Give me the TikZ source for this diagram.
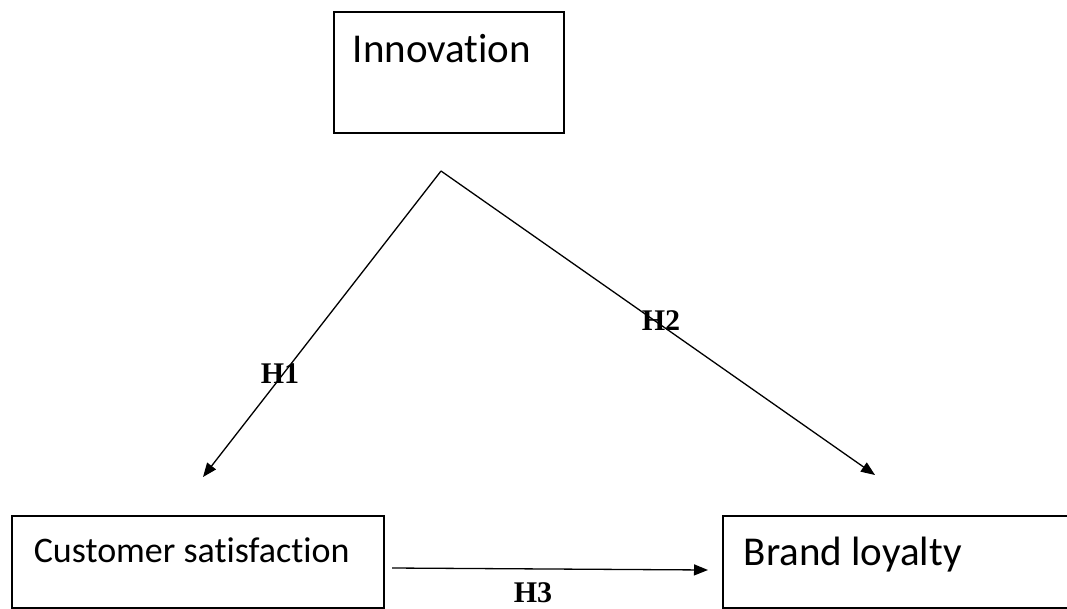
\documentclass[tikz,border=0pt]{standalone}
\usepackage{fontspec}
\setmainfont{Carlito}[Ligatures=NoCommon]
\newfontfamily\hypfont{Liberation Serif}
\usetikzlibrary{arrows.meta}
\begin{document}
\begin{tikzpicture}[x=1pt, y=-1pt, line width=1.3pt, >={Triangle[length=14pt, width=11pt]},
	main/.style = {draw, line width=1.5pt, rectangle, anchor=north west, inner ysep=0pt, align=flush left},
	hyp/.style = {font=\hypfont\bfseries\fontsize{30}{30}\selectfont, inner sep=0pt}]
	\path[use as bounding box] (0,0) rectangle (1067,608);
	\clip (0,0) rectangle (1067,608);
	
	\node[main, inner xsep=19pt, text width=192pt, text height=51pt, text depth=70pt, font=\fontsize{41}{41}\selectfont] (1) at (333,11) {Innovation};
	\node[main, inner xsep=22pt, text width=328pt, text height=47pt, text depth=45pt, font=\fontsize{36}{36}\selectfont] (2) at (11,515) {Customer satisfaction};
	\node[main, inner xsep=21pt, text width=311pt, text height=50pt, text depth=42pt, font=\fontsize{41}{41}\selectfont] (3) at (722,515) {Brand loyalty};
	
	\coordinate (a) at (441,171);
	\coordinate (b) at (203,477);
	\coordinate (c) at (875,475);
	\coordinate (d) at (392,568);
	\coordinate (e) at (708,570);
	
	\node[hyp] (h1) at (280,374) {H1};
	\node[hyp] (h2) at (661,321) {H2};
	\node[hyp] (h3) at (533,593) {H3};
	
	\draw[->] (a) -- (b);
	\draw[->] (a) -- (c);
	\draw[->] (d) -- (e);
	
\end{tikzpicture}
\end{document}
